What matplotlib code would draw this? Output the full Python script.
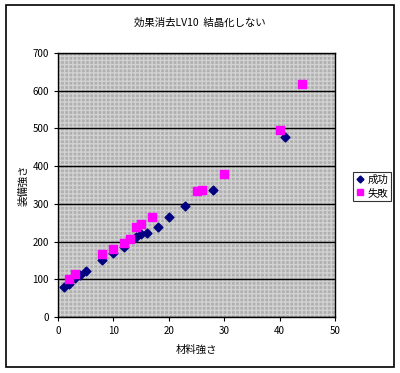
import matplotlib.pyplot as plt
from matplotlib.patches import Rectangle
from matplotlib.lines import Line2D

plt.rcParams['font.family'] = ['Noto Sans CJK JP', 'DejaVu Sans']

# データ
success_x = [1, 2, 3, 4, 5, 8, 10, 12, 14, 15, 16, 18, 20, 23, 28, 41]
success_y = [79, 87, 103, 111, 122, 151, 169, 185, 213, 220, 224, 239, 265, 295, 336, 478]
fail_x = [2, 3, 8, 10, 12, 13, 14, 15, 17, 25, 26, 30, 40, 44]
fail_y = [100, 115, 166, 180, 197, 206, 240, 246, 266, 333, 337, 379, 497, 619]

title = '効果消去LV10  結晶化しない'
xlabel = '材料強さ'
ylabel = '装備強さ'
labels = ['成功', '失敗']

fig = plt.figure(figsize=(4.0, 3.73), dpi=100)
fig.patch.set_facecolor('white')

# 外枠
fig.patches.append(Rectangle((0.015, 0.016), 0.97, 0.9705, transform=fig.transFigure,
                             fill=False, edgecolor='black', linewidth=1.2))

ax = fig.add_axes([0.145, 0.150, 0.6925, 0.708])
ax.set_facecolor('#b0b0b0')
ax.add_patch(Rectangle((0, 0), 1, 1, transform=ax.transAxes, fill=False,
                       hatch='++++', edgecolor='#d2d2d2', linewidth=0, zorder=0.5))

ax.set_xlim(0, 50)
ax.set_ylim(0, 700)
ax.set_xticks(range(0, 51, 10))
ax.set_yticks(range(0, 701, 100))
ax.yaxis.grid(True, color='black', linewidth=1)
ax.set_axisbelow(True)
ax.tick_params(labelsize=7, length=3, width=0.8, direction='out')
for s in ax.spines.values():
    s.set_linewidth(1)

ax.scatter(success_x, success_y, marker='D', s=20, color='#000080', zorder=3)
ax.scatter(fail_x, fail_y, marker='s', s=26, color='#ff00ff', zorder=3)

fig.text(0.5, 0.94, title, ha='center', va='center', fontsize=7.5)
ax.set_xlabel(xlabel, fontsize=7.5, labelpad=6)
ax.set_ylabel(ylabel, fontsize=7.5, labelpad=3)

handles = [Line2D([], [], marker='D', linestyle='', color='#000080', markersize=3.5),
           Line2D([], [], marker='s', linestyle='', color='#ff00ff', markersize=5)]
leg = fig.legend(handles, labels, loc='center', bbox_to_anchor=(0.93, 0.5), fontsize=7.5,
                 frameon=True, fancybox=False, edgecolor='black', handlelength=0.8,
                 handletextpad=0.3, borderpad=0.3, labelspacing=0.3)
leg.get_frame().set_linewidth(0.8)

fig.savefig('out.png', dpi=100)
